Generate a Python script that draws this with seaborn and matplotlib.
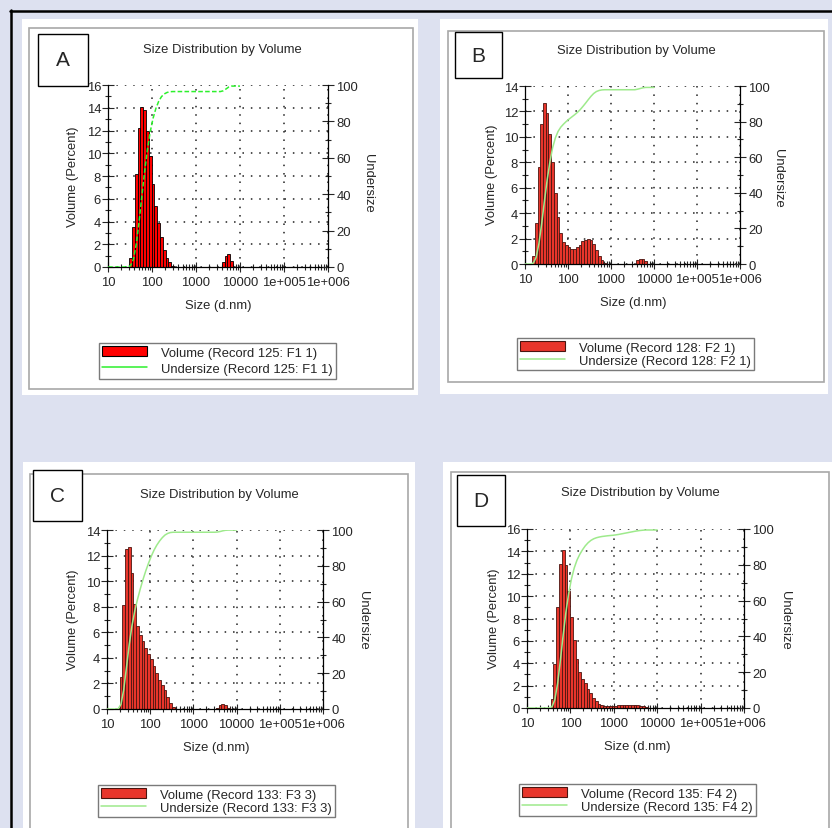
import numpy as np
import matplotlib
matplotlib.use("Agg")
import matplotlib.pyplot as plt
from matplotlib.patches import Rectangle, Patch
from matplotlib.lines import Line2D
from matplotlib.ticker import FixedLocator, MultipleLocator, LogLocator, NullFormatter
import seaborn as sns

sns.set_style("ticks")
plt.rcParams["font.family"] = ["Liberation Sans", "DejaVu Sans"]

W, H = 832, 829

# instrument size classes, d.nm (bin centres)
sizes = [10.1, 11.7, 13.54, 15.69, 18.17, 21.04, 24.36, 28.21,
         32.67, 37.84, 43.82, 50.75, 58.77, 68.06, 78.82, 91.28,
         105.7, 122.4, 141.8, 164.2, 190.1, 220.2, 255.0, 295.3,
         342.0, 396.1, 458.7, 531.2, 615.1, 712.4, 825.0, 955.4,
         1106, 1281, 1484, 1718, 1990, 2305, 2669, 3091,
         3580, 4145, 4801, 5560, 6439, 7456, 8635, 10000]

# volume % per size class
vol_a = [0, 0, 0, 0, 0, 0, 0, 0,
         0.8, 3.5, 8.2, 12.2, 14.1, 13.8, 12.0, 9.8,
         7.3, 5.4, 3.9, 2.6, 1.5, 0.8, 0.4, 0.1,
         0, 0, 0, 0, 0, 0, 0, 0,
         0, 0, 0, 0, 0, 0, 0, 0,
         0, 0.4, 1.0, 1.1, 0.5, 0, 0, 0]
vol_b = [0, 0, 0, 0.6, 3.2, 7.6, 11.0, 12.7,
         11.9, 10.2, 8.0, 5.6, 3.7, 2.4, 1.7, 1.5,
         1.3, 1.2, 1.2, 1.3, 1.5, 1.8, 1.9, 2.0,
         1.9, 1.6, 1.1, 0.6, 0.3, 0.1, 0, 0,
         0, 0, 0, 0, 0, 0, 0, 0,
         0, 0.3, 0.4, 0.4, 0.2, 0, 0, 0]
vol_c = [0, 0, 0, 0, 0.1, 2.5, 8.1, 12.5,
         12.7, 10.6, 8.2, 6.5, 5.8, 5.3, 4.8, 4.3,
         3.9, 3.4, 2.8, 2.3, 1.9, 1.5, 0.9, 0.5,
         0.15, 0, 0, 0, 0, 0, 0, 0,
         0, 0, 0, 0, 0, 0, 0, 0,
         0.1, 0.3, 0.4, 0.3, 0.1, 0, 0, 0]
vol_d = [0, 0, 0, 0, 0, 0, 0, 0,
         0, 0.8, 3.9, 9.0, 12.9, 14.1, 12.8, 10.5,
         8.1, 6.1, 4.4, 3.2, 2.6, 2.2, 1.7, 1.3,
         0.9, 0.6, 0.4, 0.3, 0.2, 0.2, 0.15, 0.15,
         0.2, 0.25, 0.3, 0.3, 0.3, 0.3, 0.3, 0.3,
         0.25, 0.2, 0.15, 0.1, 0, 0, 0, 0]

letters = ["A", "B", "C", "D"]
records = ["Record 125: F1 1", "Record 128: F2 1", "Record 133: F3 3", "Record 135: F4 2"]
y_max = [16, 14, 14, 16]
x_ticks = [10, 100, 1000, 10000, 1e5, 1e6]
x_tick_labels = ["10", "100", "1000", "10000", "1e+005", "1e+006"]

# layout in pixels: (x0, y0, x1, y1)
layout = [
    dict(white=(22, 20, 418, 396), frame=(29, 29, 413, 390), box=(38, 35, 88, 87),
         axes=(108, 86, 328, 268), title=(222, 50), xlab=(218, 306), ylab=(73, 177),
         rlab=(368, 183), leg=(99, 344), spacing=0.3),
    dict(white=(440, 20, 828, 395), frame=(448, 32, 824, 383), box=(455, 33, 502, 79),
         axes=(525, 87, 740, 265), title=(636, 51), xlab=(633, 303), ylab=(492, 175),
         rlab=(778, 178), leg=(517, 339), spacing=0.05),
    dict(white=(23, 463, 415, 829), frame=(30, 475, 408, 840), box=(33, 471, 82, 522),
         axes=(107, 531, 323, 710), title=(219, 495), xlab=(216, 748), ylab=(73, 620),
         rlab=(363, 620), leg=(98, 786), spacing=0.05),
    dict(white=(443, 463, 832, 829), frame=(451, 473, 829, 840), box=(457, 476, 505, 527),
         axes=(527, 530, 744, 709), title=(640, 493), xlab=(637, 747), ylab=(494, 619),
         rlab=(785, 620), leg=(519, 785), spacing=0.05),
]

bar_col = ["#ff0000", "#e8352b", "#e8352b", "#e8352b"]
bar_edge = ["#000000", "#4a1510", "#4a1510", "#4a1510"]
line_col = ["#2cf02c", "#9eea8c", "#9eea8c", "#9eea8c"]
line_style = [(0, (3, 1.5)), "-", "-", "-"]

FS = 9.4


def fig_box(x0, y0, x1, y1):
    return [x0 / W, 1 - y1 / H, (x1 - x0) / W, (y1 - y0) / H]


fig = plt.figure(figsize=(W / 100, H / 100), dpi=100, facecolor="#dde1f0")

# outer black frame
fig.add_artist(Line2D([10.5 / W, 10.5 / W], [1 - 11 / H, 0], color="black", lw=1.8,
                      transform=fig.transFigure))
fig.add_artist(Line2D([10 / W, 1], [1 - 11.5 / H, 1 - 11.5 / H], color="black", lw=1.8,
                      transform=fig.transFigure))

centres = np.array(sizes)
ratio = centres[1] / centres[0]
edges = np.concatenate([[centres[0] / np.sqrt(ratio)],
                        np.sqrt(centres[:-1] * centres[1:]),
                        [centres[-1] * np.sqrt(ratio)]])
log_edges = [float(e) for e in np.log10(edges)]

volumes = [vol_a, vol_b, vol_c, vol_d]

for i, lay in enumerate(layout):
    x0, y0, x1, y1 = lay["white"]
    fig.add_artist(Rectangle((x0 / W, 1 - y1 / H), (x1 - x0) / W, (y1 - y0) / H,
                             transform=fig.transFigure, facecolor="white",
                             edgecolor="none", zorder=-3))
    x0, y0, x1, y1 = lay["frame"]
    fig.add_artist(Rectangle((x0 / W, 1 - y1 / H), (x1 - x0) / W, (y1 - y0) / H,
                             transform=fig.transFigure, facecolor="none",
                             edgecolor="#a8a8a8", lw=1.2, zorder=-2))

    ax_px = lay["axes"]
    ax = fig.add_axes(fig_box(*ax_px))
    ax.set_facecolor("none")

    def to_ax(px, py, b=ax_px):
        return (px - b[0]) / (b[2] - b[0]), (b[3] - py) / (b[3] - b[1])

    vol = volumes[i]
    sns.histplot(x=sizes, weights=vol, bins=log_edges, log_scale=True, ax=ax,
                 color=bar_col[i], edgecolor=bar_edge[i], linewidth=0.6, alpha=1)

    ax2 = ax.twinx()
    undersize = np.cumsum(vol)
    sns.lineplot(x=sizes, y=undersize, ax=ax2, color=line_col[i], lw=1.1,
                 linestyle=line_style[i])

    ax.set_xlim(10, 1e6)
    ax.set_ylim(0, y_max[i])
    ax2.set_ylim(0, 100)

    ax.xaxis.set_major_locator(FixedLocator(x_ticks))
    ax.set_xticklabels(x_tick_labels)
    ax.xaxis.set_minor_locator(LogLocator(base=10, subs=range(2, 10), numticks=20))
    ax.xaxis.set_minor_formatter(NullFormatter())
    ax.yaxis.set_major_locator(MultipleLocator(2))
    ax.yaxis.set_minor_locator(MultipleLocator(1))
    ax2.yaxis.set_major_locator(MultipleLocator(20))
    ax2.yaxis.set_minor_locator(MultipleLocator(10))

    ax.grid(True, which="major", color="#202020", linestyle=(0, (1, 4.5)), linewidth=1.1)

    for a in (ax, ax2):
        a.spines["top"].set_visible(False)
        for s in a.spines.values():
            s.set_linewidth(0.9)
            s.set_color("black")
    ax.spines["right"].set_visible(False)
    ax2.spines["left"].set_visible(False)
    ax2.spines["bottom"].set_visible(False)

    ax.tick_params(axis="x", which="major", direction="inout", length=7, width=0.8,
                   labelsize=FS, pad=3)
    ax.tick_params(axis="x", which="minor", direction="inout", length=5, width=0.8)
    ax.tick_params(axis="y", which="major", direction="inout", length=8, width=0.8,
                   labelsize=FS, pad=1)
    ax.tick_params(axis="y", which="minor", direction="inout", length=5, width=0.8)
    ax2.tick_params(axis="y", which="major", direction="inout", length=8, width=0.8,
                    labelsize=FS, pad=2)
    ax2.tick_params(axis="y", which="minor", direction="inout", length=5, width=0.8)

    ax.set_xlabel("Size (d.nm)", fontsize=FS, va="center")
    ax.xaxis.set_label_coords(*to_ax(*lay["xlab"]))
    ax.set_ylabel("Volume (Percent)", fontsize=FS, va="center")
    ax.yaxis.set_label_coords(*to_ax(*lay["ylab"]))
    ax2.set_ylabel("Undersize", fontsize=FS, rotation=270, va="center")
    ax2.yaxis.set_label_coords(*to_ax(*lay["rlab"]))

    tx, ty = to_ax(*lay["title"])
    ax.text(tx, ty, "Size Distribution by Volume", transform=ax.transAxes,
            ha="center", va="center", fontsize=FS, clip_on=False)

    handles = [Patch(facecolor=bar_col[i], edgecolor=bar_edge[i], lw=0.8),
               Line2D([], [], color=line_col[i], lw=1.1)]
    labels = ["Volume (%s)" % records[i], "Undersize (%s)" % records[i]]
    lx, ly = lay["leg"]
    leg = ax.legend(handles, labels, loc="upper left", bbox_to_anchor=(lx / W, 1 - ly / H),
                    bbox_transform=fig.transFigure, frameon=True, fancybox=False,
                    edgecolor="#7a7a7a", framealpha=1, borderpad=0.25, borderaxespad=0,
                    handlelength=3.4, handleheight=0.8, handletextpad=1.1,
                    labelspacing=lay["spacing"], fontsize=FS)
    leg.get_frame().set_linewidth(1.0)

    bx0, by0, bx1, by1 = lay["box"]
    fig.add_artist(Rectangle((bx0 / W, 1 - by1 / H), (bx1 - bx0) / W, (by1 - by0) / H,
                             transform=fig.transFigure, facecolor="white",
                             edgecolor="black", lw=1.0, zorder=5))
    fig.text((bx0 + bx1) / 2 / W, 1 - (by0 + by1) / 2 / H, letters[i], ha="center",
             va="center", fontsize=15, zorder=6)

fig.savefig("out.png", dpi=100, facecolor=fig.get_facecolor())
